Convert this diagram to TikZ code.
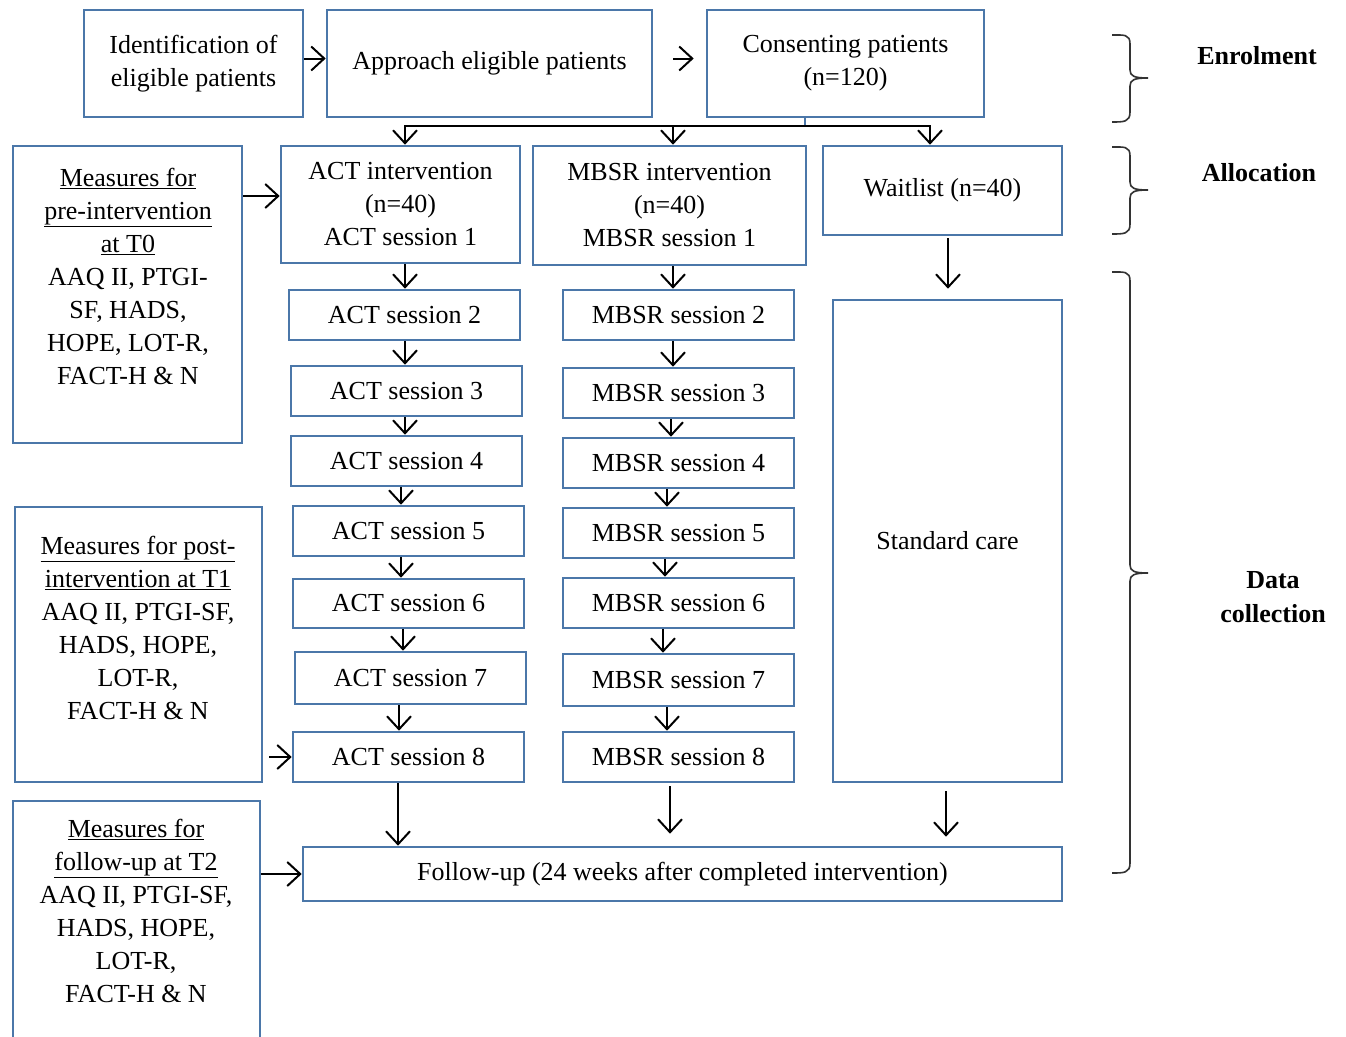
\documentclass[tikz,border=0pt]{standalone}
\usepackage{fontspec}
\setmainfont{Liberation Serif}
\usetikzlibrary{arrows.meta,calc}
\definecolor{boxc}{HTML}{4B77A9}
\tikzset{
  box/.style={draw=boxc, line width=2.6pt, rectangle, inner sep=0pt, align=center,
     font=\fontsize{26}{33}\selectfont},
  txt/.style={inner sep=0pt, align=center, font=\fontsize{26}{33}\selectfont},
  lab/.style={inner sep=0pt, align=center, font=\fontsize{26}{34}\selectfont\bfseries},
  arr/.style={line width=2pt, -{Straight Barb[length=13pt,width=24pt,line width=2pt]}},
  brc/.style={line width=1.6pt, draw=black!80}
}
\newcommand\bx[6]{\node[box, minimum width={(#4)-(#2)}, minimum height={(#5)-(#3)}] (#1) at ({((#2)+(#4))/2},{((#3)+(#5))/2}) {#6};}
\begin{document}
\begin{tikzpicture}[x=1pt,y=-1pt]
\clip (0,0) rectangle (1346,1036);
\fill[white] (0,0) rectangle (1346,1036);
% top row
\bx{ident}{84}{10}{303}{117}{Identification of\\eligible patients}
\bx{appr}{327}{10}{652}{117}{Approach eligible patients}
\bx{cons}{707}{10}{984}{117}{Consenting patients\\(n=120)}
% allocation row
\bx{actint}{281}{146}{520}{263}{ACT intervention\\(n=40)\\ACT session 1}
\bx{mbsrint}{533}{146}{806}{265}{MBSR intervention\\(n=40)\\MBSR session 1}
\bx{wait}{823}{146}{1062}{235}{Waitlist (n=40)}
% ACT sessions
\bx{act2}{289}{290}{520}{340}{ACT session 2}
\bx{act3}{291}{366}{522}{416}{ACT session 3}
\bx{act4}{291}{436}{522}{486}{ACT session 4}
\bx{act5}{293}{506}{524}{556}{ACT session 5}
\bx{act6}{293}{579}{524}{628}{ACT session 6}
\bx{act7}{295}{652}{526}{704}{ACT session 7}
\bx{act8}{293}{732}{524}{782}{ACT session 8}
% MBSR sessions
\bx{mb2}{563}{290}{794}{340}{MBSR session 2}
\bx{mb3}{563}{368}{794}{418}{MBSR session 3}
\bx{mb4}{563}{438}{794}{488}{MBSR session 4}
\bx{mb5}{563}{508}{794}{558}{MBSR session 5}
\bx{mb6}{563}{578}{794}{628}{MBSR session 6}
\bx{mb7}{563}{654}{794}{706}{MBSR session 7}
\bx{mb8}{563}{732}{794}{782}{MBSR session 8}
% standard care
\bx{std}{833}{300}{1062}{782}{Standard care}
% follow-up
\bx{fu}{303}{847}{1062}{901}{Follow-up (24 weeks after completed intervention)}
% measures boxes
\bx{pre}{13}{146}{242}{443}{}
\node[txt, anchor=north] (pretxt) at (128,168) {\underline{Measures for}\\\underline{pre-intervention}\\\underline{at T0}\\AAQ II, PTGI-\\SF, HADS,\\HOPE, LOT-R,\\FACT-H \& N};
\bx{post}{15}{507}{262}{782}{}
\node[txt, anchor=north] (posttxt) at (138,536) {\underline{Measures for post-}\\\underline{intervention at T1}\\AAQ II, PTGI-SF,\\HADS, HOPE,\\LOT-R,\\FACT-H \& N};
\bx{fum}{13}{801}{260}{1060}{}
\node[txt, anchor=north] (fumtxt) at (136,819) {\underline{Measures for}\\\underline{follow-up at T2}\\AAQ II, PTGI-SF,\\HADS, HOPE,\\LOT-R,\\FACT-H \& N};
% labels
\node[lab] (enr) at (1257,56) {Enrolment};
\node[lab] (alloc) at (1259,173) {Allocation};
\node[lab] (data) at (1273,597) {Data\\collection};
% braces
\draw[brc] (1112,35) .. controls (1124,35) and (1130,34) .. (1130,44) -- (1130,70)
  .. controls (1130,76) and (1134,78) .. (1148,78) .. controls (1134,78) and (1130,80) .. (1130,86)
  -- (1130,112) .. controls (1130,122) and (1124,122) .. (1112,122);
\draw[brc] (1112,147) .. controls (1124,147) and (1130,146) .. (1130,156) -- (1130,182)
  .. controls (1130,188) and (1134,190) .. (1148,190) .. controls (1134,190) and (1130,192) .. (1130,198)
  -- (1130,224) .. controls (1130,234) and (1124,234) .. (1112,234);
\draw[brc] (1112,272) .. controls (1124,272) and (1130,271) .. (1130,281) -- (1130,565)
  .. controls (1130,571) and (1134,573) .. (1148,573) .. controls (1134,573) and (1130,575) .. (1130,581)
  -- (1130,863) .. controls (1130,873) and (1124,873) .. (1112,873);
% top arrows
\draw[arr] ([yshift=5pt]ident.east) -- ([yshift=5pt]appr.west);
\draw[arr, shorten <=20pt, shorten >=12pt] ([yshift=5pt]appr.east) -- ([yshift=5pt]cons.west);
% distribution bar
\coordinate (barL) at (405,126);
\coordinate (barM) at (673,126);
\coordinate (barR) at (930,126);
\coordinate (barC) at (805,126);
\draw[draw=boxc, line width=1.5pt] (cons.south -| barC) -- (barC);
\draw[line width=2pt] ([xshift=-1pt]barL) -- ([xshift=1pt]barR);
\draw[arr] (barL) -- (actint.north -| barL);
\draw[arr] (barM) -- (mbsrint.north -| barM);
\draw[arr] (barR) -- (wait.north -| barR);
% measures arrows
\draw[arr] (pre.east |- 0,196) -- (actint.west |- 0,196);
\draw[arr, shorten <=6pt] (post.east |- act8) -- (act8.west);
\draw[arr] (fum.east |- fu) -- (fu.west);
% ACT column
\draw[arr] (actint.south -| 405,0) -- (act2.north -| 405,0);
\draw[arr] (act2.south -| 405,0) -- (act3.north -| 405,0);
\draw[arr] (act3.south -| 405,0) -- (act4.north -| 405,0);
\draw[arr] (act4.south -| 401,0) -- (act5.north -| 401,0);
\draw[arr] (act5.south -| 401,0) -- (act6.north -| 401,0);
\draw[arr] (act6.south -| 403,0) -- (act7.north -| 403,0);
\draw[arr] (act7.south -| 399,0) -- (act8.north -| 399,0);
\draw[arr] (act8.south -| 398,0) -- (fu.north -| 398,0);
% MBSR column
\draw[arr] (mbsrint.south -| 673,0) -- (mb2.north -| 673,0);
\draw[arr] (mb2.south -| 673,0) -- (mb3.north -| 673,0);
\draw[arr] (mb3.south -| 671,0) -- (mb4.north -| 671,0);
\draw[arr] (mb4.south -| 667,0) -- (mb5.north -| 667,0);
\draw[arr] (mb5.south -| 665,0) -- (mb6.north -| 665,0);
\draw[arr] (mb6.south -| 663,0) -- (mb7.north -| 663,0);
\draw[arr] (mb7.south -| 667,0) -- (mb8.north -| 667,0);
\draw[arr, shorten <=3pt, shorten >=12pt] (mb8.south -| 670,0) -- (fu.north -| 670,0);
% waitlist column
\draw[arr, shorten <=2pt, shorten >=10pt] (wait.south -| 948,0) -- (std.north -| 948,0);
\draw[arr, shorten <=8pt, shorten >=9pt] (std.south -| 946,0) -- (fu.north -| 946,0);
\end{tikzpicture}
\end{document}
